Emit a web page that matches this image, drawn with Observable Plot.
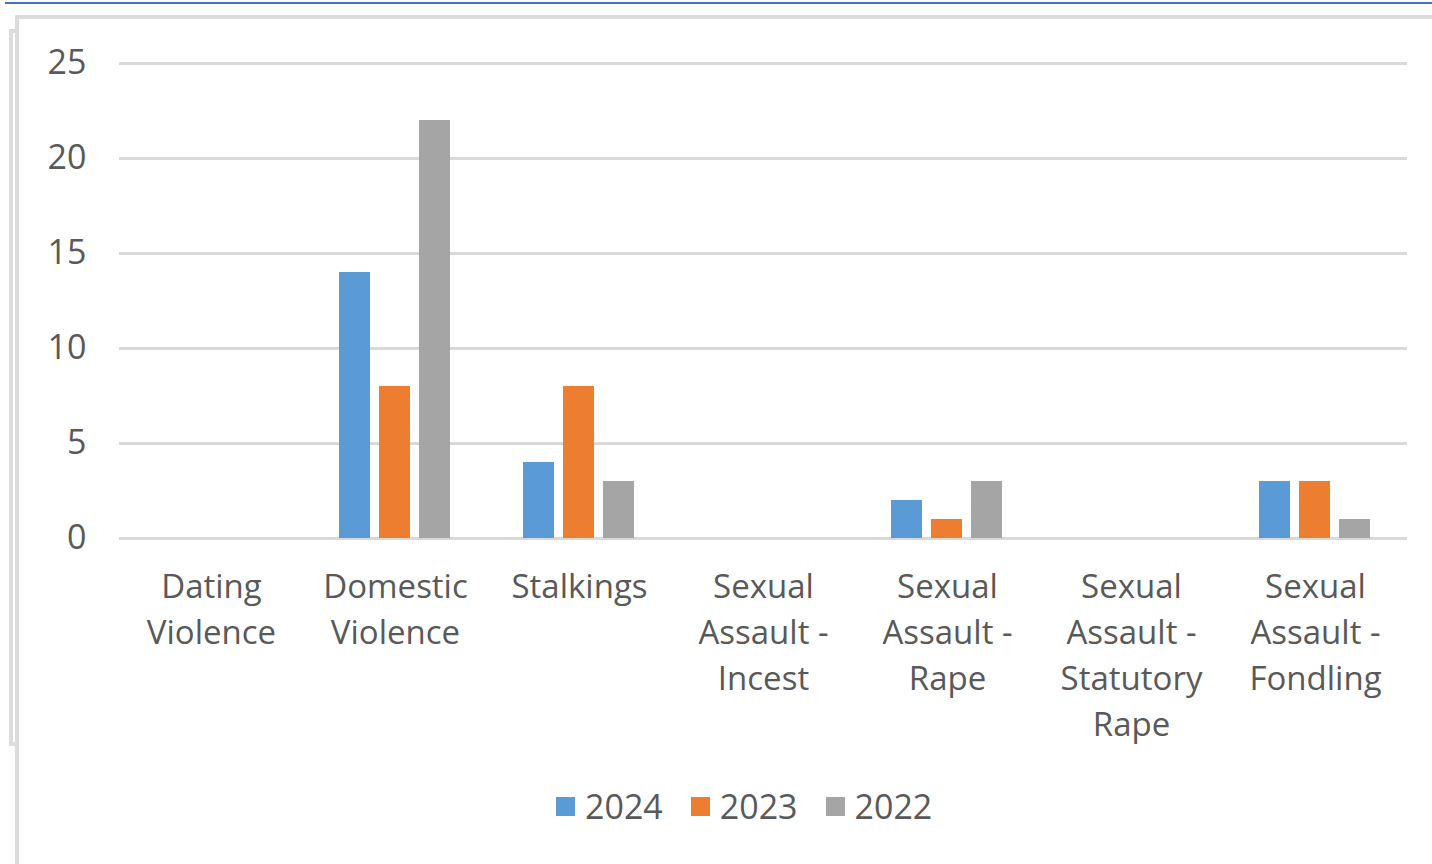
<!DOCTYPE html>
<html>
<head>
<meta charset="utf-8">
<script src="https://cdn.jsdelivr.net/npm/d3@7"></script>
<script src="https://cdn.jsdelivr.net/npm/@observablehq/plot@0.6"></script>
<style>
  html, body { margin: 0; padding: 0; background: #fff; }
  body { width: 1432px; height: 864px; position: relative; overflow: hidden; font-family: "Open Sans", sans-serif; }
  #topline { position: absolute; left: 5px; top: 2px; width: 1427px; height: 2px; background: #4472C4; }
  #frame2 { position: absolute; left: 9px; top: 29px; width: 8px; height: 709px; border: 4px solid #DCDCDC; border-right: none; }
  #frame { position: absolute; left: 15px; top: 15px; width: 1440px; height: 900px; border-top: 4px solid #DCDCDC; border-left: 4px solid #DCDCDC; background: #fff; }
  #chart { position: absolute; left: 0; top: 0; }
  #legend { position: absolute; left: 556px; top: 783px; display: flex; align-items: center; color: #595959; font-size: 34px; }
  .item { display: flex; align-items: center; margin-right: 28px; }
  .sw { width: 19px; height: 19px; margin-right: 10px; }
</style>
</head>
<body>
<div id="topline"></div>
<div id="frame2"></div>
<div id="frame"></div>
<div id="chart"></div>
<div id="legend"></div>
<script>
const categories = ["Dating Violence", "Domestic Violence", "Stalkings", "Sexual Assault - Incest", "Sexual Assault - Rape", "Sexual Assault - Statutory Rape", "Sexual Assault - Fondling"];
const tickLabels = ["Dating\nViolence", "Domestic\nViolence", "Stalkings", "Sexual\nAssault -\nIncest", "Sexual\nAssault -\nRape", "Sexual\nAssault -\nStatutory\nRape", "Sexual\nAssault -\nFondling"];
const years = ["2024", "2023", "2022"];
const values2024 = [0, 14, 4, 0, 2, 0, 3];
const values2023 = [0, 8, 8, 0, 1, 0, 3];
const values2022 = [0, 22, 3, 0, 3, 0, 1];
const colors = ["#5B9BD5", "#ED7D31", "#A5A5A5"];
const yTicks = [0, 5, 10, 15, 20, 25];

const series = [values2024, values2023, values2022];
const data = [];
categories.forEach((c, i) => {
  years.forEach((y, j) => data.push({category: c, year: y, value: series[j][i]}));
});

const textColor = "#595959";

const plot = Plot.plot({
  width: 1432,
  height: 760,
  marginLeft: 117,
  marginRight: 24,
  marginTop: 63,
  marginBottom: 222,
  style: {background: "transparent", fontFamily: "'Open Sans', sans-serif", color: textColor},
  fx: {domain: categories, padding: 0, axis: null},
  x: {domain: years, paddingInner: 0.22, paddingOuter: 0.86, axis: null},
  y: {domain: [0, 25]},
  color: {domain: years, range: colors},
  marks: [
    Plot.ruleY(yTicks, {stroke: "#D9D9D9", strokeWidth: 3}),
    Plot.barY(data, {fx: "category", x: "year", y: "value", fill: "year"}),
    Plot.axisY({ticks: yTicks, tickSize: 0, tickPadding: 33, fontSize: 34, fill: textColor, label: null, facetAnchor: "left"}),
    Plot.axisFx({anchor: "bottom", tickSize: 0, tickPadding: 27, fontSize: 33, fill: textColor, lineHeight: 1.39, label: null,
      tickFormat: d => tickLabels[categories.indexOf(d)]})
  ]
});
document.getElementById("chart").appendChild(plot);

const legend = document.getElementById("legend");
years.forEach((y, i) => {
  const item = document.createElement("div");
  item.className = "item";
  const sw = document.createElement("div");
  sw.className = "sw";
  sw.style.background = colors[i];
  const t = document.createElement("span");
  t.textContent = y;
  item.appendChild(sw);
  item.appendChild(t);
  legend.appendChild(item);
});
</script>
</body>
</html>
